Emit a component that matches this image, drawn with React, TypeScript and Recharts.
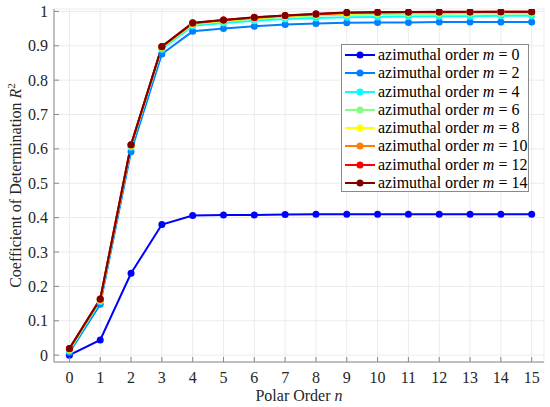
import React from 'react';
import { LineChart, Line, XAxis, YAxis, CartesianGrid } from 'recharts';

const polarOrders = [0, 1, 2, 3, 4, 5, 6, 7, 8, 9, 10, 11, 12, 13, 14, 15];
const azimuthalOrders = [0, 2, 4, 6, 8, 10, 12, 14];

const m0 = [0, 0.044, 0.238, 0.38, 0.406, 0.408, 0.408, 0.409, 0.41, 0.41, 0.41, 0.41, 0.41, 0.41, 0.41, 0.41];
const m2 = [0.008, 0.148, 0.592, 0.876, 0.942, 0.95, 0.957, 0.962, 0.965, 0.967, 0.968, 0.968, 0.969, 0.969, 0.969, 0.969];
const m4 = [0.012, 0.156, 0.605, 0.89, 0.958, 0.966, 0.973, 0.978, 0.981, 0.983, 0.984, 0.985, 0.986, 0.986, 0.987, 0.987];
const m6 = [0.015, 0.16, 0.609, 0.894, 0.962, 0.971, 0.978, 0.984, 0.988, 0.99, 0.992, 0.993, 0.993, 0.994, 0.994, 0.994];
const m8 = [0.017, 0.161, 0.61, 0.896, 0.964, 0.973, 0.98, 0.986, 0.99, 0.993, 0.995, 0.996, 0.996, 0.997, 0.997, 0.997];
const m10 = [0.018, 0.162, 0.611, 0.897, 0.965, 0.974, 0.981, 0.987, 0.991, 0.995, 0.996, 0.997, 0.997, 0.998, 0.998, 0.998];
const m12 = [0.019, 0.163, 0.612, 0.897, 0.966, 0.975, 0.982, 0.988, 0.992, 0.996, 0.997, 0.998, 0.998, 0.998, 0.999, 0.999];
const m14 = [0.019, 0.163, 0.612, 0.898, 0.967, 0.975, 0.983, 0.988, 0.993, 0.997, 0.998, 0.998, 0.999, 0.999, 0.999, 0.999];

const seriesValues = [m0, m2, m4, m6, m8, m10, m12, m14];
const seriesColors = ['#0000ff', '#0080ff', '#00ffff', '#80ff80', '#ffff00', '#ff8000', '#ff0000', '#800000'];
const yTicks = [0, 0.1, 0.2, 0.3, 0.4, 0.5, 0.6, 0.7, 0.8, 0.9, 1];
const xTicks = polarOrders;

const data = polarOrders.map((n, i) => {
  const row: Record<string, number> = { n };
  azimuthalOrders.forEach((m, j) => {
    row['m' + m] = seriesValues[j][i];
  });
  return row;
});

const FONT = "'Liberation Serif', 'Times New Roman', serif";
const AXIS = '#8a8a8a';
const TEXT = '#262626';

const XTick = (props: any) => {
  const { x, y, payload } = props;
  return (
    <g>
      <line x1={x} x2={x} y1={y} y2={y - 5} stroke={AXIS} strokeWidth={1} />
      <text x={x} y={y + 21} textAnchor="middle" style={{ fontFamily: FONT, fontSize: 16 }} fill={TEXT}>
        {String(payload.value)}
      </text>
    </g>
  );
};

const YTick = (props: any) => {
  const { x, y, payload } = props;
  return (
    <g>
      <line x1={x} x2={x + 5} y1={y} y2={y} stroke={AXIS} strokeWidth={1} />
      <text x={x - 6} y={y + 5.5} textAnchor="end" style={{ fontFamily: FONT, fontSize: 16 }} fill={TEXT}>
        {String(payload.value)}
      </text>
    </g>
  );
};

const LegendBox = () => (
  <div
    style={{
      position: 'absolute',
      left: 341,
      top: 44,
      width: 188,
      height: 148,
      boxSizing: 'border-box',
      border: '1px solid #8a8a8a',
      background: '#fff',
      padding: '1px 0 1px 2px',
      fontFamily: FONT,
      fontSize: 16,
      color: '#000',
      lineHeight: '18.25px',
    }}
  >
    {azimuthalOrders.map((m, i) => (
      <div key={m} style={{ display: 'flex', alignItems: 'center', whiteSpace: 'nowrap' }}>
        <svg width={32} height={12} style={{ display: 'block', flex: 'none' }}>
          <line x1={1} x2={31} y1={6} y2={6} stroke={seriesColors[i]} strokeWidth={2} />
          <circle cx={16} cy={6} r={3.5} fill={seriesColors[i]} />
        </svg>
        <span style={{ marginLeft: 2, fontFamily: FONT }}>
          azimuthal order <i>m</i> = {m}
        </span>
      </div>
    ))}
  </div>
);

export default function App() {
  return (
    <div style={{ position: 'absolute', left: 0, top: 0, width: 550, height: 407, background: '#fff' }}>
      <LineChart
        width={550}
        height={407}
        data={data}
        margin={{ top: 9, right: 6, bottom: 0, left: 0 }}
        style={{ fontFamily: FONT }}
      >
        <CartesianGrid stroke="#ebebeb" strokeWidth={1} />
        <XAxis
          dataKey="n"
          type="number"
          domain={[-0.5, 15.4]}
          ticks={xTicks}
          interval={0}
          height={45}
          tickSize={0}
          tickMargin={0}
          stroke={AXIS}
          tick={<XTick />}
          allowDataOverflow
          label={{
            content: (p: any) => {
              const vb = p.viewBox || { x: 54, width: 490 };
              const cx = vb.x + vb.width / 2;
              return (
                <text x={cx} y={401} textAnchor="middle" style={{ fontFamily: FONT, fontSize: 16 }} fill={TEXT}>
                  Polar Order <tspan fontStyle="italic">n</tspan>
                </text>
              );
            },
          }}
        />
        <YAxis
          type="number"
          domain={[-0.02, 1.007]}
          ticks={yTicks}
          interval={0}
          width={54}
          tickSize={0}
          tickMargin={0}
          stroke={AXIS}
          tick={<YTick />}
          allowDataOverflow
          label={{
            content: (p: any) => {
              const vb = p.viewBox || { y: 9, height: 353 };
              const cx = 21;
              const cy = vb.y + vb.height / 2;
              return (
                <text
                  x={cx}
                  y={cy}
                  transform={`rotate(-90, ${cx}, ${cy})`}
                  textAnchor="middle"
                  style={{ fontFamily: FONT, fontSize: 16 }}
                  fill={TEXT}
                >
                  Coefficient of Determination <tspan fontStyle="italic">R</tspan>
                  <tspan dy={-6} style={{ fontSize: 11 }}>2</tspan>
                </text>
              );
            },
          }}
        />
        {azimuthalOrders.map((m, i) => (
          <Line
            key={m}
            type="linear"
            dataKey={'m' + m}
            name={'azimuthal order m = ' + m}
            stroke={seriesColors[i]}
            strokeWidth={2}
            dot={{ r: 3.5, fill: seriesColors[i], stroke: seriesColors[i], strokeWidth: 0 }}
            activeDot={false}
            isAnimationActive={false}
          />
        ))}
      </LineChart>
      <LegendBox />
    </div>
  );
}
